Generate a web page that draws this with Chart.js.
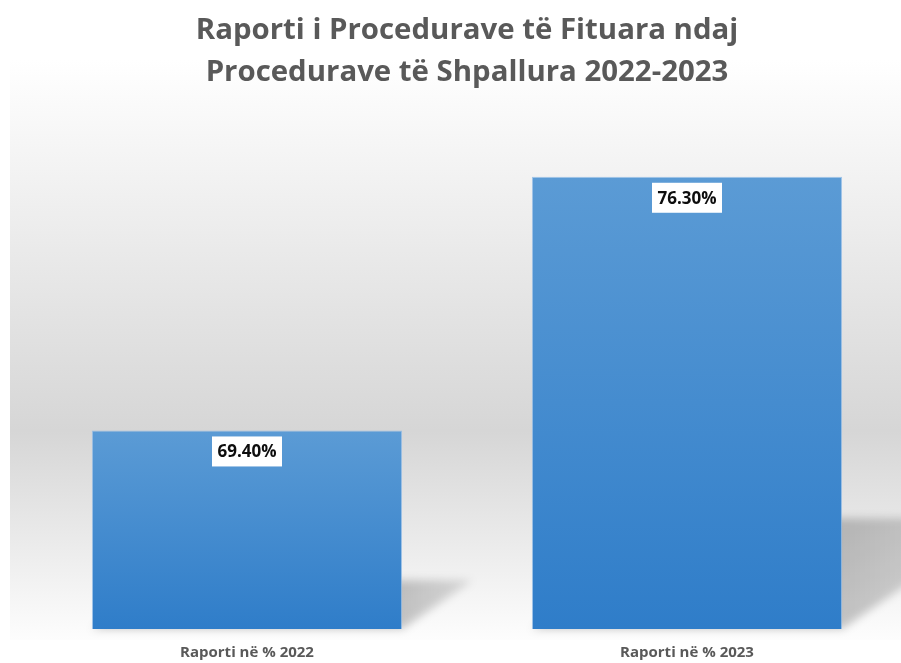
<!DOCTYPE html>
<html>
<head>
<meta charset="utf-8">
<script src="https://cdn.jsdelivr.net/npm/chart.js@4/dist/chart.umd.min.js"></script>
<style>
  html, body { margin: 0; padding: 0; background: #fff; overflow: hidden; }
  #wrap { width: 910px; height: 663px; }
</style>
</head>
<body>
<div id="wrap"><canvas id="chart"></canvas></div>
<script>
const categories = ['Raporti në % 2022', 'Raporti në % 2023'];
const ratioValues = [69.4, 76.3];
const titleLines = ['Raporti i Procedurave të Fituara ndaj', 'Procedurave të Shpallura 2022-2023'];

// gray band behind the bars
const backgroundBand = {
  id: 'backgroundBand',
  beforeDraw(chart) {
    const ctx = chart.ctx;
    const g = ctx.createLinearGradient(0, 60, 0, 640);
    g.addColorStop(0, '#ffffff');
    g.addColorStop(0.64, '#d6d6d6');
    g.addColorStop(1, '#fdfdfd');
    ctx.save();
    ctx.fillStyle = g;
    ctx.fillRect(10, 60, chart.width - 10, 580);
    ctx.restore();
  }
};

// perspective shadow behind each bar
const barShadow = {
  id: 'barShadow',
  beforeDatasetsDraw(chart) {
    const ctx = chart.ctx;
    const xs = chart.scales.x, ys = chart.scales.y;
    const base = chart.chartArea.bottom;
    const w = xs.width / categories.length * 0.705;
    const k = 1.45;
    ctx.save();
    ctx.filter = 'blur(4px)';
    ratioValues.forEach((v, i) => {
      const cx = xs.getPixelForValue(i);
      const top = ys.getPixelForValue(v);
      const left = cx - w / 2;
      const right = cx + w / 2;
      const sh = (base - top) * 0.245;
      const g = ctx.createLinearGradient(right, 0, right + k * sh + 20, 0);
      g.addColorStop(0, 'rgba(0, 0, 0, 0.22)');
      g.addColorStop(1, 'rgba(0, 0, 0, 0.08)');
      ctx.fillStyle = g;
      ctx.beginPath();
      ctx.moveTo(left, base);
      ctx.lineTo(right, base);
      ctx.lineTo(right + k * sh, base - sh);
      ctx.lineTo(left + k * sh, base - sh);
      ctx.closePath();
      ctx.fill();
    });
    ctx.restore();
  }
};

// white boxed value labels
const valueLabels = {
  id: 'valueLabels',
  afterDatasetsDraw(chart) {
    const ctx = chart.ctx;
    const xs = chart.scales.x, ys = chart.scales.y;
    ctx.save();
    ctx.font = 'bold 17px "Open Sans"';
    ctx.textAlign = 'center';
    ctx.textBaseline = 'middle';
    ratioValues.forEach((v, i) => {
      const text = v.toFixed(2) + '%';
      const cx = xs.getPixelForValue(i);
      const cy = ys.getPixelForValue(v) + 21;
      ctx.fillStyle = '#ffffff';
      ctx.fillRect(cx - 35, cy - 15, 70, 30);
      ctx.fillStyle = '#0d0d0d';
      ctx.fillText(text, cx, cy + 1);
    });
    ctx.restore();
  }
};

new Chart(document.getElementById('chart'), {
  type: 'bar',
  data: {
    labels: categories,
    datasets: [{
      data: ratioValues,
      backgroundColor: (c) => {
        const chart = c.chart;
        if (!chart.chartArea) return '#5b9bd5';
        const top = chart.scales.y.getPixelForValue(c.raw);
        const g = chart.ctx.createLinearGradient(0, top, 0, chart.chartArea.bottom);
        g.addColorStop(0, '#5b9bd5');
        g.addColorStop(1, '#2f7dc9');
        return g;
      },
      borderColor: 'rgba(140, 185, 230, 0.8)',
      borderWidth: 1,
      barPercentage: 0.705,
      categoryPercentage: 1
    }]
  },
  options: {
    responsive: true,
    maintainAspectRatio: false,
    animation: false,
    layout: { padding: { left: 27, right: 3, bottom: 0 } },
    plugins: {
      legend: { display: false },
      tooltip: { enabled: false },
      title: {
        display: true,
        text: titleLines,
        color: '#595959',
        font: { family: 'Open Sans', size: 29.4, weight: 'bold', lineHeight: 1.45 },
        padding: { top: 9, bottom: 20 }
      }
    },
    scales: {
      x: {
        grid: { display: false, drawTicks: false },
        border: { display: false },
        ticks: {
          color: '#595959',
          padding: 15,
          font: { family: 'Open Sans', size: 15, weight: 'bold' }
        },
        afterFit: (scale) => { scale.height = 34; }
      },
      y: {
        display: false,
        min: 64,
        max: 78
      }
    }
  },
  plugins: [backgroundBand, barShadow, valueLabels]
});
</script>
</body>
</html>
